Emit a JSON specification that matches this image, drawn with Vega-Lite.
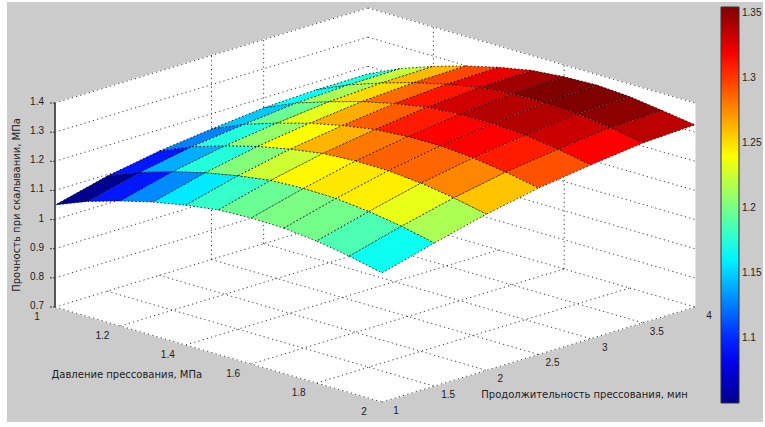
{
"$schema":"https://vega.github.io/schema/vega-lite/v6.json",
"width":756,"height":420,"autosize":{"type":"none"},
"padding":{"left":7,"top":2,"right":2,"bottom":5},
"background":"white",
"view":{"fill":"#cbcbcb","stroke":null},
"encoding":{
 "x":{"field":"px","type":"quantitative","axis":null,"scale":{"domain":[7,763],"nice":false,"zero":false}},
 "y":{"field":"py","type":"quantitative","axis":null,"scale":{"domain":[422,2],"nice":false,"zero":false}}
},
"layer":[
{"data":{"values":[
 {"w":"left","k":0,"P":1,"T":1,"z":0.7},{"w":"left","k":1,"P":1,"T":1,"z":1.4},{"w":"left","k":2,"P":1,"T":4,"z":1.4},{"w":"left","k":3,"P":1,"T":4,"z":0.7},
 {"w":"back","k":0,"P":1,"T":4,"z":0.7},{"w":"back","k":1,"P":1,"T":4,"z":1.4},{"w":"back","k":2,"P":2,"T":4,"z":1.4},{"w":"back","k":3,"P":2,"T":4,"z":0.7},
 {"w":"floor","k":0,"P":1,"T":1,"z":0.7},{"w":"floor","k":1,"P":1,"T":4,"z":0.7},{"w":"floor","k":2,"P":2,"T":4,"z":0.7},{"w":"floor","k":3,"P":2,"T":1,"z":0.7}
 ]},
 "transform":[
  {"calculate":"55+327*(datum.P-1)+104.33*(datum.T-1)","as":"px"},
  {"calculate":"307+95*(datum.P-1)-31.67*(datum.T-1)-291.4*(datum.z-0.7)","as":"py"}
 ],
 "mark":{"type":"line","interpolate":"linear-closed","fill":"white","stroke":"white","strokeWidth":1},
 "encoding":{"detail":{"field":"w"},"order":{"field":"k","type":"quantitative"}}
},
{"data":{"values":[
 {"P1":1,"T1":1,"z1":0.7,"P2":2,"T2":1,"z2":0.7},{"P1":2,"T1":1,"z1":0.7,"P2":2,"T2":4,"z2":0.7},
 {"P1":1,"T1":1,"z1":1.4,"P2":1,"T2":4,"z2":1.4},{"P1":1,"T1":4,"z1":1.4,"P2":2,"T2":4,"z2":1.4},
 {"P1":1,"T1":1.5,"z1":0.7,"P2":2,"T2":1.5,"z2":0.7},{"P1":1,"T1":2,"z1":0.7,"P2":2,"T2":2,"z2":0.7},
 {"P1":1,"T1":2.5,"z1":0.7,"P2":2,"T2":2.5,"z2":0.7},{"P1":1,"T1":3,"z1":0.7,"P2":2,"T2":3,"z2":0.7},
 {"P1":1,"T1":3.5,"z1":0.7,"P2":2,"T2":3.5,"z2":0.7},{"P1":1,"T1":4,"z1":0.7,"P2":2,"T2":4,"z2":0.7},
 {"P1":1,"T1":1,"z1":0.7,"P2":1,"T2":4,"z2":0.7},{"P1":1.2,"T1":1,"z1":0.7,"P2":1.2,"T2":4,"z2":0.7},
 {"P1":1.4,"T1":1,"z1":0.7,"P2":1.4,"T2":4,"z2":0.7},{"P1":1.6,"T1":1,"z1":0.7,"P2":1.6,"T2":4,"z2":0.7},
 {"P1":1.8,"T1":1,"z1":0.7,"P2":1.8,"T2":4,"z2":0.7},
 {"P1":1,"T1":1,"z1":0.8,"P2":1,"T2":4,"z2":0.8},{"P1":1,"T1":1,"z1":0.9,"P2":1,"T2":4,"z2":0.9},
 {"P1":1,"T1":1,"z1":1.0,"P2":1,"T2":4,"z2":1.0},{"P1":1,"T1":1,"z1":1.1,"P2":1,"T2":4,"z2":1.1},
 {"P1":1,"T1":1,"z1":1.2,"P2":1,"T2":4,"z2":1.2},{"P1":1,"T1":1,"z1":1.3,"P2":1,"T2":4,"z2":1.3},
 {"P1":1,"T1":4,"z1":0.8,"P2":2,"T2":4,"z2":0.8},{"P1":1,"T1":4,"z1":0.9,"P2":2,"T2":4,"z2":0.9},
 {"P1":1,"T1":4,"z1":1.0,"P2":2,"T2":4,"z2":1.0},{"P1":1,"T1":4,"z1":1.1,"P2":2,"T2":4,"z2":1.1},
 {"P1":1,"T1":4,"z1":1.2,"P2":2,"T2":4,"z2":1.2},{"P1":1,"T1":4,"z1":1.3,"P2":2,"T2":4,"z2":1.3},
 {"P1":1,"T1":2.5,"z1":0.7,"P2":1,"T2":2.5,"z2":1.4},{"P1":1,"T1":3,"z1":0.7,"P2":1,"T2":3,"z2":1.4},
 {"P1":1.2,"T1":4,"z1":0.7,"P2":1.2,"T2":4,"z2":1.4},{"P1":1.6,"T1":4,"z1":0.7,"P2":1.6,"T2":4,"z2":1.4}
 ]},
 "transform":[
  {"calculate":"55+327*(datum.P1-1)+104.33*(datum.T1-1)","as":"px"},
  {"calculate":"307+95*(datum.P1-1)-31.67*(datum.T1-1)-291.4*(datum.z1-0.7)","as":"py"},
  {"calculate":"55+327*(datum.P2-1)+104.33*(datum.T2-1)","as":"px2"},
  {"calculate":"307+95*(datum.P2-1)-31.67*(datum.T2-1)-291.4*(datum.z2-0.7)","as":"py2"}
 ],
 "mark":{"type":"rule","color":"#222","strokeWidth":0.9,"strokeDash":[1.2,3.2]},
 "encoding":{"x2":{"field":"px2"},"y2":{"field":"py2"}}
},
{"data":{"values":[
 {"P":1,"T":4,"z":1.174},{"P":1,"T":3.5,"z":1.173},{"P":1,"T":3,"z":1.166},{"P":1,"T":2.5,"z":1.148},{"P":1,"T":2,"z":1.127},{"P":1,"T":1.5,"z":1.095},{"P":1,"T":1,"z":1.05},
 {"P":1.1,"T":4,"z":1.225},{"P":1.1,"T":3.5,"z":1.223},{"P":1.1,"T":3,"z":1.215},{"P":1.1,"T":2.5,"z":1.196},{"P":1.1,"T":2,"z":1.174},{"P":1.1,"T":1.5,"z":1.14},{"P":1.1,"T":1,"z":1.095},
 {"P":1.2,"T":4,"z":1.265},{"P":1.2,"T":3.5,"z":1.262},{"P":1.2,"T":3,"z":1.252},{"P":1.2,"T":2.5,"z":1.233},{"P":1.2,"T":2,"z":1.209},{"P":1.2,"T":1.5,"z":1.175},{"P":1.2,"T":1,"z":1.129},
 {"P":1.3,"T":4,"z":1.299},{"P":1.3,"T":3.5,"z":1.296},{"P":1.3,"T":3,"z":1.285},{"P":1.3,"T":2.5,"z":1.265},{"P":1.3,"T":2,"z":1.24},{"P":1.3,"T":1.5,"z":1.204},{"P":1.3,"T":1,"z":1.158},
 {"P":1.4,"T":4,"z":1.327},{"P":1.4,"T":3.5,"z":1.323},{"P":1.4,"T":3,"z":1.311},{"P":1.4,"T":2.5,"z":1.29},{"P":1.4,"T":2,"z":1.263},{"P":1.4,"T":1.5,"z":1.226},{"P":1.4,"T":1,"z":1.18},
 {"P":1.5,"T":4,"z":1.349},{"P":1.5,"T":3.5,"z":1.345},{"P":1.5,"T":3,"z":1.331},{"P":1.5,"T":2.5,"z":1.309},{"P":1.5,"T":2,"z":1.281},{"P":1.5,"T":1.5,"z":1.243},{"P":1.5,"T":1,"z":1.196},
 {"P":1.6,"T":4,"z":1.36},{"P":1.6,"T":3.5,"z":1.355},{"P":1.6,"T":3,"z":1.339},{"P":1.6,"T":2.5,"z":1.317},{"P":1.6,"T":2,"z":1.288},{"P":1.6,"T":1.5,"z":1.248},{"P":1.6,"T":1,"z":1.201},
 {"P":1.7,"T":4,"z":1.364},{"P":1.7,"T":3.5,"z":1.358},{"P":1.7,"T":3,"z":1.34},{"P":1.7,"T":2.5,"z":1.318},{"P":1.7,"T":2,"z":1.287},{"P":1.7,"T":1.5,"z":1.246},{"P":1.7,"T":1,"z":1.199},
 {"P":1.8,"T":4,"z":1.357},{"P":1.8,"T":3.5,"z":1.351},{"P":1.8,"T":3,"z":1.333},{"P":1.8,"T":2.5,"z":1.309},{"P":1.8,"T":2,"z":1.277},{"P":1.8,"T":1.5,"z":1.234},{"P":1.8,"T":1,"z":1.187},
 {"P":1.9,"T":4,"z":1.342},{"P":1.9,"T":3.5,"z":1.337},{"P":1.9,"T":3,"z":1.317},{"P":1.9,"T":2.5,"z":1.293},{"P":1.9,"T":2,"z":1.259},{"P":1.9,"T":1.5,"z":1.216},{"P":1.9,"T":1,"z":1.168},
 {"P":2,"T":4,"z":1.325},{"P":2,"T":3.5,"z":1.317},{"P":2,"T":3,"z":1.296},{"P":2,"T":2.5,"z":1.271},{"P":2,"T":2,"z":1.236},{"P":2,"T":1.5,"z":1.191},{"P":2,"T":1,"z":1.143}
 ]},
 "transform":[
  {"calculate":"55+327*(datum.P-1)+104.33*(datum.T-1)","as":"px"},
  {"calculate":"307+95*(datum.P-1)-31.67*(datum.T-1)-291.4*(datum.z-0.7)","as":"py"},
  {"calculate":"[0,1,2,3]","as":"k"},
  {"flatten":["k"]},
  {"calculate":"round((datum.P-1)*10)-((datum.k==1||datum.k==2)?1:0)","as":"ci"},
  {"calculate":"round((datum.T-1)*2)-(datum.k>=2?1:0)","as":"cj"},
  {"filter":"datum.ci>=0&&datum.ci<10&&datum.cj>=0&&datum.cj<6"},
  {"calculate":"datum.ci*10+datum.cj","as":"cell"},
  {"calculate":"datum.k==0?datum.z:null","as":"z0"},
  {"joinaggregate":[{"op":"max","field":"z0","as":"c"}],"groupby":["cell"]}
 ],
 "mark":{"type":"line","interpolate":"linear-closed","stroke":"#000","strokeWidth":0.8,"strokeDash":[1.5,2.2]},
 "encoding":{
  "detail":{"field":"cell"},
  "order":{"field":"k","type":"quantitative"},
  "fill":{"field":"c","type":"quantitative",
   "scale":{"domain":[1.05,1.088,1.164,1.241,1.317,1.355],"range":["#00008f","#0000ff","#00ffff","#ffff00","#ff0000","#800000"],"clamp":true,"interpolate":"rgb"},
   "legend":{"orient":"none","legendX":714,"legendY":5,"title":null,"type":"gradient","direction":"vertical","gradientLength":396,"gradientThickness":18,"gradientStrokeColor":"#333","gradientStrokeWidth":1,"values":[1.1,1.15,1.2,1.25,1.3,1.35],"format":"~g","labelFont":"Liberation Sans","labelFontSize":10,"labelColor":"#222","labelOffset":3,"labelOverlap":false}
  }
 }
},
{"data":{"values":[{"P":1,"T":1,"z":0.7,"zt":1.4}]},
 "transform":[
  {"calculate":"55+327*(datum.P-1)+104.33*(datum.T-1)","as":"px"},
  {"calculate":"307-291.4*(datum.z-0.7)","as":"py"},
  {"calculate":"307-291.4*(datum.zt-0.7)","as":"py2"}
 ],
 "mark":{"type":"rule","color":"#555","strokeWidth":2},
 "encoding":{"y2":{"field":"py2"}}
},
{"data":{"values":[{"t":"0.7","z":0.7},{"t":"0.8","z":0.8},{"t":"0.9","z":0.9},{"t":"1","z":1.0},{"t":"1.1","z":1.1},{"t":"1.2","z":1.2},{"t":"1.3","z":1.3},{"t":"1.4","z":1.4}]},
 "transform":[
  {"calculate":"50","as":"px"},
  {"calculate":"55","as":"px2"},
  {"calculate":"307-291.4*(datum.z-0.7)","as":"py"}
 ],
 "mark":{"type":"rule","color":"#333","strokeWidth":1,"strokeDash":[2,1]},
 "encoding":{"x2":{"field":"px2"}}
},
{"data":{"values":[{"v":1.1,"s":0},{"v":1.15,"s":0},{"v":1.2,"s":0},{"v":1.25,"s":0},{"v":1.3,"s":0},{"v":1.35,"s":0},{"v":1.1,"s":1},{"v":1.15,"s":1},{"v":1.2,"s":1},{"v":1.25,"s":1},{"v":1.3,"s":1},{"v":1.35,"s":1}]},
 "transform":[
  {"calculate":"datum.s==0?721:736","as":"px"},
  {"calculate":"datum.s==0?724:739","as":"px2"},
  {"calculate":"403-(datum.v-1.05)/0.305*396","as":"py"}
 ],
 "mark":{"type":"rule","color":"#222","strokeWidth":1},
 "encoding":{"x2":{"field":"px2"}}
},
{"data":{"values":[{"t":"0.7","z":0.7},{"t":"0.8","z":0.8},{"t":"0.9","z":0.9},{"t":"1","z":1.0},{"t":"1.1","z":1.1},{"t":"1.2","z":1.2},{"t":"1.3","z":1.3},{"t":"1.4","z":1.4}]},
 "transform":[
  {"calculate":"55","as":"px"},
  {"calculate":"307-291.4*(datum.z-0.7)","as":"py"}
 ],
 "mark":{"type":"text","font":"Liberation Sans","fontSize":10,"color":"#222","align":"right","baseline":"middle","dx":-11,"dy":-1},
 "encoding":{"text":{"field":"t"}}
},
{"data":{"values":[{"t":"1","P":1},{"t":"1.2","P":1.2},{"t":"1.4","P":1.4},{"t":"1.6","P":1.6},{"t":"1.8","P":1.8},{"t":"2","P":2}]},
 "transform":[
  {"calculate":"55+327*(datum.P-1)","as":"px"},
  {"calculate":"307+95*(datum.P-1)","as":"py"}
 ],
 "mark":{"type":"text","font":"Liberation Sans","fontSize":10,"color":"#222","align":"center","baseline":"middle","dx":-18,"dy":10},
 "encoding":{"text":{"field":"t"}}
},
{"data":{"values":[{"t":"1","T":1},{"t":"1.5","T":1.5},{"t":"2","T":2},{"t":"2.5","T":2.5},{"t":"3","T":3},{"t":"3.5","T":3.5},{"t":"4","T":4}]},
 "transform":[
  {"calculate":"382+104.33*(datum.T-1)","as":"px"},
  {"calculate":"402-31.67*(datum.T-1)","as":"py"}
 ],
 "mark":{"type":"text","font":"Liberation Sans","fontSize":10,"color":"#222","align":"center","baseline":"middle","dx":14,"dy":9},
 "encoding":{"text":{"field":"t"}}
},
{"data":{"values":[{"t":"Давление прессования, МПа","P":1.4,"T":1,"z":0.7}]},
 "transform":[
  {"calculate":"55+327*(datum.P-1)+104.33*(datum.T-1)","as":"px"},
  {"calculate":"307+95*(datum.P-1)-31.67*(datum.T-1)-291.4*(datum.z-0.7)","as":"py"}
 ],
 "mark":{"type":"text","font":"DejaVu Sans","fontSize":10,"color":"#222","align":"center","baseline":"middle","dx":-59,"dy":30},
 "encoding":{"text":{"field":"t"}}
},
{"data":{"values":[{"t":"Продолжительность прессования, мин","P":2,"T":2.5,"z":0.7}]},
 "transform":[
  {"calculate":"55+327*(datum.P-1)+104.33*(datum.T-1)","as":"px"},
  {"calculate":"307+95*(datum.P-1)-31.67*(datum.T-1)-291.4*(datum.z-0.7)","as":"py"}
 ],
 "mark":{"type":"text","font":"DejaVu Sans","fontSize":10,"color":"#222","align":"center","baseline":"middle","dx":46,"dy":41},
 "encoding":{"text":{"field":"t"}}
},
{"data":{"values":[{"t":"Прочность при скалывании, МПа","P":1,"T":1,"z":1.05}]},
 "transform":[
  {"calculate":"55+327*(datum.P-1)+104.33*(datum.T-1)","as":"px"},
  {"calculate":"307+95*(datum.P-1)-31.67*(datum.T-1)-291.4*(datum.z-0.7)","as":"py"}
 ],
 "mark":{"type":"text","font":"DejaVu Sans","fontSize":10,"color":"#222","align":"center","baseline":"middle","angle":270,"dx":0,"dy":-38},
 "encoding":{"text":{"field":"t"}}
}
]
}
